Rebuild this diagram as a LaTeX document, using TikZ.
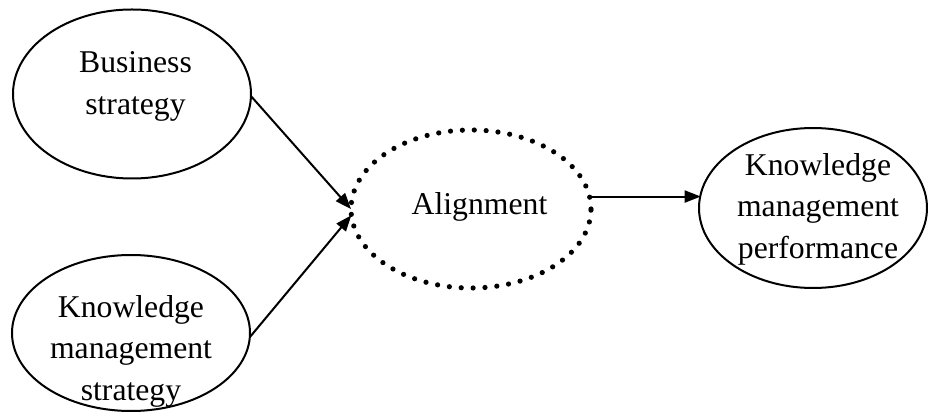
\documentclass[tikz,border=0pt]{standalone}
\usepackage{fontspec}
\setmainfont{Liberation Serif}
\usetikzlibrary{shapes.geometric,arrows.meta}
\begin{document}
\begin{tikzpicture}[x=1pt,y=-1pt,
  oval/.style={draw, ellipse, line width=2pt, inner sep=0pt, outer sep=0pt},
  dotoval/.style={draw, ellipse, inner sep=0pt, outer sep=0pt, line width=5.2pt, line cap=round, dash pattern=on 0pt off 11.9pt},
  lbl/.style={inner sep=0pt, align=center, font=\fontsize{31.7}{41.5}\selectfont},
  link/.style={line width=2pt, -{Triangle[length=16pt,width=12pt]}}]
\useasboundingbox (0,0) rectangle (928,419);
\node[oval, minimum width=238pt, minimum height=169pt] (bs) at (132,94) {};
\node[oval, minimum width=238pt, minimum height=156pt] (kms) at (131,333) {};
\node[dotoval, minimum width=240pt, minimum height=158pt] (al) at (471,209) {};
\node[oval, minimum width=228pt, minimum height=160pt] (kmp) at (813,208) {};
\node[lbl] (bst) at (135.5,86.4) {Business\\strategy};
\begin{scope}
\clip (0,0) rectangle (928,406);
\node[lbl] (kmst) at (131,351) {Knowledge\\management\\strategy};
\end{scope}
\node[lbl, anchor=base] (alt) at (479.5,215) {Alignment};
\node[lbl] (kmpt) at (818,209) {Knowledge\\management\\performance};
\draw[link] (bs.-1) -- (al.180);
\draw[link] (kms.-2) -- (al.183);
\draw[link] (al.6.6) -- (kmp.173.4 |- al.6.6);
\end{tikzpicture}
\end{document}
